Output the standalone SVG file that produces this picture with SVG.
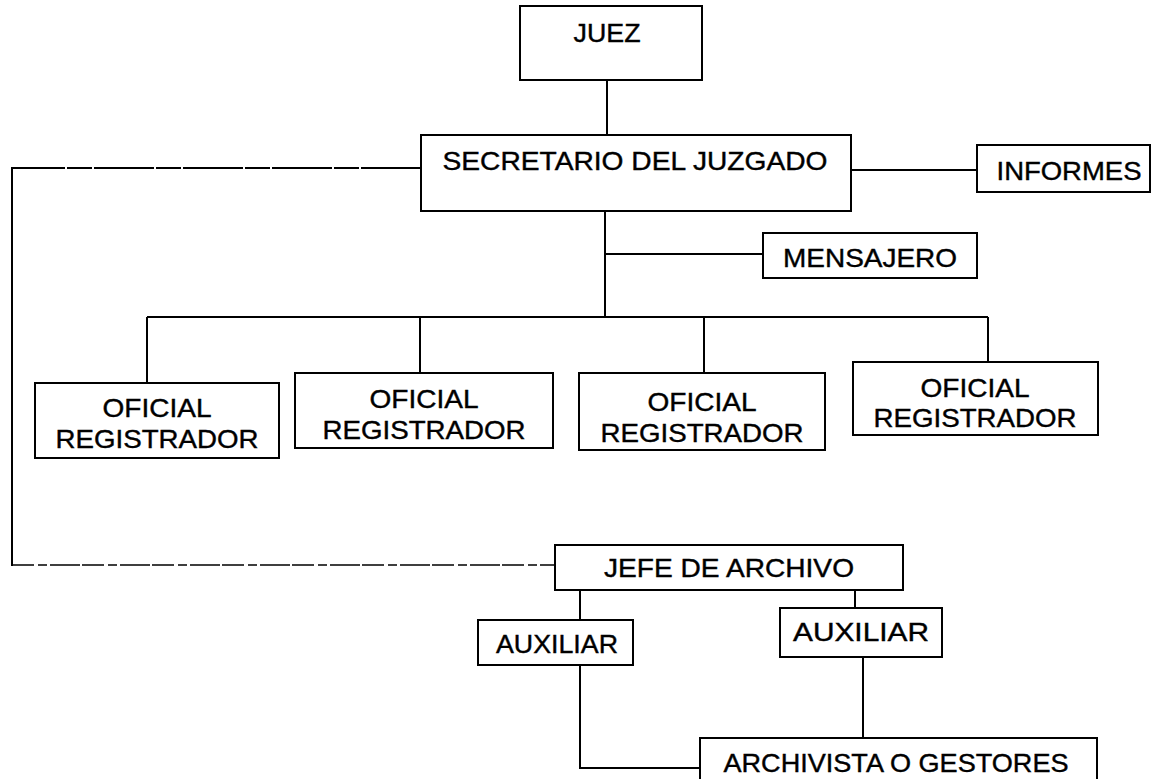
<svg xmlns="http://www.w3.org/2000/svg" width="1153" height="779" viewBox="0 0 1153 779">
<style>
.box{fill:#fff;stroke:#000;stroke-width:2}
.c{fill:none;stroke:#000;stroke-width:2}
.d1{fill:none;stroke:#000;stroke-width:2;stroke-dasharray:60 2 25 2}
.d2{fill:none;stroke:#000;stroke-width:1.7;stroke-dasharray:22 4 9 3 30 2}
.t{font-family:"Liberation Sans",Arial,Helvetica,sans-serif;font-size:26px;text-anchor:middle;fill:#000;stroke:#000;stroke-width:0.4}
</style>
<rect width="1153" height="779" fill="#fff"/>
<g id="connectors">
<line class="c" x1="607" y1="80" x2="607" y2="135"/>
<line class="d1" x1="421" y1="168" x2="12" y2="168"/>
<line class="c" x1="12" y1="167" x2="12" y2="566"/>
<line class="d2" x1="12" y1="565" x2="555" y2="565"/>
<line class="c" x1="851" y1="170" x2="977" y2="170"/>
<line class="c" x1="605" y1="211" x2="605" y2="317"/>
<line class="c" x1="605" y1="254" x2="763" y2="254"/>
<line class="c" x1="147" y1="317" x2="988" y2="317"/>
<line class="c" x1="147" y1="317" x2="147" y2="383"/>
<line class="c" x1="420" y1="317" x2="420" y2="373"/>
<line class="c" x1="704" y1="317" x2="704" y2="373"/>
<line class="c" x1="988" y1="317" x2="988" y2="362"/>
<line class="c" x1="580" y1="590" x2="580" y2="620"/>
<line class="c" x1="855" y1="590" x2="855" y2="608"/>
<polyline class="c" points="580,665 580,768 700,768"/>
<line class="c" x1="863" y1="657" x2="863" y2="738"/>
</g>
<g id="juez">
<rect class="box" x="520" y="6" width="182" height="74"/>
<text class="t" x="607" y="42" font-size="24" textLength="67" lengthAdjust="spacingAndGlyphs">JUEZ</text>
</g>
<g id="secretario">
<rect class="box" x="421" y="135" width="430" height="76"/>
<text class="t" x="635" y="170" font-size="25" textLength="385" lengthAdjust="spacingAndGlyphs">SECRETARIO DEL JUZGADO</text>
</g>
<g id="informes">
<rect class="box" x="977" y="145" width="173" height="47"/>
<text class="t" x="1069" y="180" font-size="25" textLength="145" lengthAdjust="spacingAndGlyphs">INFORMES</text>
</g>
<g id="mensajero">
<rect class="box" x="763" y="233" width="214" height="45"/>
<text class="t" x="870" y="267" font-size="25" textLength="174" lengthAdjust="spacingAndGlyphs">MENSAJERO</text>
</g>
<g id="oficial1">
<rect class="box" x="35" y="383" width="244" height="75"/>
<text class="t" x="157" y="417" textLength="109" lengthAdjust="spacingAndGlyphs">OFICIAL</text>
<text class="t" x="157" y="448" textLength="203" lengthAdjust="spacingAndGlyphs">REGISTRADOR</text>
</g>
<g id="oficial2">
<rect class="box" x="295" y="373" width="258" height="75"/>
<text class="t" x="424" y="408" textLength="109" lengthAdjust="spacingAndGlyphs">OFICIAL</text>
<text class="t" x="424" y="439" textLength="203" lengthAdjust="spacingAndGlyphs">REGISTRADOR</text>
</g>
<g id="oficial3">
<rect class="box" x="579" y="373" width="246" height="77"/>
<text class="t" x="702" y="411" textLength="109" lengthAdjust="spacingAndGlyphs">OFICIAL</text>
<text class="t" x="702" y="442" textLength="203" lengthAdjust="spacingAndGlyphs">REGISTRADOR</text>
</g>
<g id="oficial4">
<rect class="box" x="853" y="362" width="245" height="73"/>
<text class="t" x="975" y="397" textLength="109" lengthAdjust="spacingAndGlyphs">OFICIAL</text>
<text class="t" x="975" y="427" textLength="203" lengthAdjust="spacingAndGlyphs">REGISTRADOR</text>
</g>
<g id="jefe">
<rect class="box" x="555" y="545" width="348" height="45"/>
<text class="t" x="729" y="577" font-size="24" textLength="250" lengthAdjust="spacingAndGlyphs">JEFE DE ARCHIVO</text>
</g>
<g id="auxiliar1">
<rect class="box" x="478" y="620" width="155" height="45"/>
<text class="t" x="557" y="653" font-size="23" textLength="122" lengthAdjust="spacingAndGlyphs">AUXILIAR</text>
</g>
<g id="auxiliar2">
<rect class="box" x="780" y="608" width="162" height="49"/>
<text class="t" x="861" y="641" font-size="24" textLength="136" lengthAdjust="spacingAndGlyphs">AUXILIAR</text>
</g>
<g id="archivista">
<rect class="box" x="700" y="738" width="397" height="60"/>
<text class="t" x="896" y="772" textLength="345" lengthAdjust="spacingAndGlyphs">ARCHIVISTA O GESTORES</text>
</g>
</svg>
